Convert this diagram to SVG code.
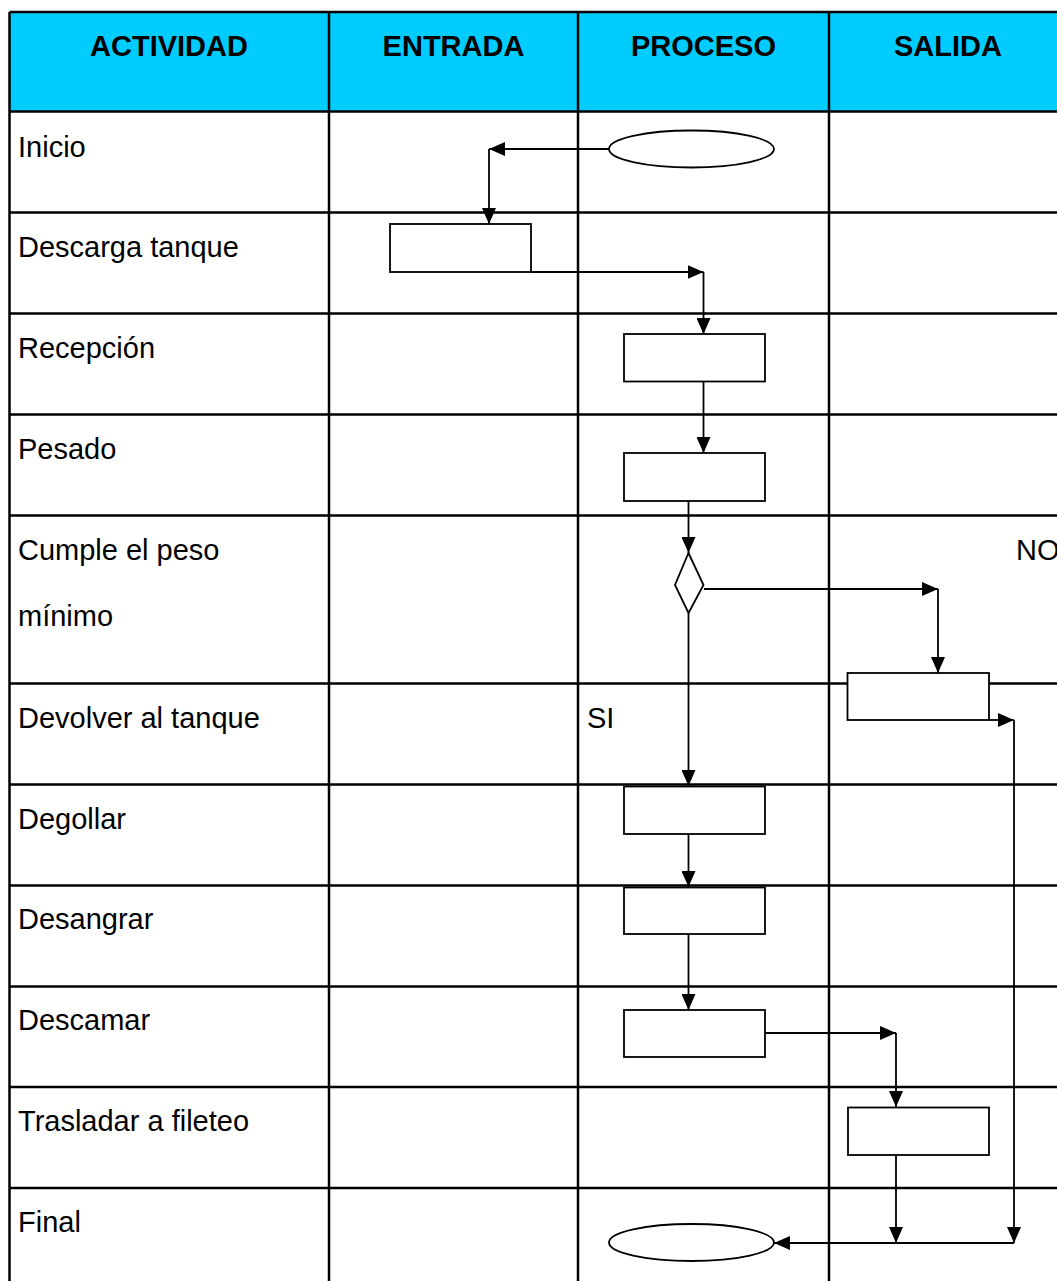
<svg xmlns="http://www.w3.org/2000/svg" width="1057" height="1281" viewBox="0 0 1057 1281">
  <style>
    .grid { stroke: #000; stroke-width: 2.5; fill: none; }
    .head { font-family: "Liberation Sans", Arial, sans-serif; font-size: 29px; font-weight: bold; fill: #000; text-anchor: middle; }
    .lbl { font-family: "Liberation Sans", Arial, sans-serif; font-size: 29px; fill: #000; }
    .shape { fill: #fff; stroke: #000; stroke-width: 1.8; }
    .link { fill: none; stroke: #000; stroke-width: 1.8; marker-end: url(#arrow); }
  </style>
  <defs>
    <marker id="arrow" markerUnits="userSpaceOnUse" markerWidth="16" markerHeight="14" refX="16" refY="7" orient="auto">
      <path d="M0,0 L16,7 L0,14 Z" fill="#000"/>
    </marker>
  </defs>

  <rect width="1057" height="1281" fill="#fff"/>

  <!-- table -->
  <g id="table">
    <rect x="9.5" y="12" width="1057.5" height="99.5" fill="#00ccff"/>
    <path class="grid" d="M9.5,12 H1067 M9.5,111.5 H1067 M9.5,212.5 H1067 M9.5,313.5 H1067 M9.5,414.5 H1067 M9.5,515.5 H1067 M9.5,683.5 H1067 M9.5,784.5 H1067 M9.5,885.5 H1067 M9.5,986.5 H1067 M9.5,1087 H1067 M9.5,1188 H1067"/>
    <path class="grid" d="M9.5,12 V1290 M329,12 V1290 M578,12 V1290 M829,12 V1290 M1067,12 V1290"/>
    <text class="head" x="169" y="56">ACTIVIDAD</text>
    <text class="head" x="453.5" y="56">ENTRADA</text>
    <text class="head" x="703.5" y="56">PROCESO</text>
    <text class="head" x="948" y="56">SALIDA</text>
    <text class="lbl" x="18" y="157">Inicio</text>
    <text class="lbl" x="18" y="257">Descarga tanque</text>
    <text class="lbl" x="18" y="358">Recepción</text>
    <text class="lbl" x="18" y="459">Pesado</text>
    <text class="lbl" x="18" y="560">Cumple el peso</text>
    <text class="lbl" x="18" y="626">mínimo</text>
    <text class="lbl" x="18" y="728">Devolver al tanque</text>
    <text class="lbl" x="18" y="829">Degollar</text>
    <text class="lbl" x="18" y="929">Desangrar</text>
    <text class="lbl" x="18" y="1030">Descamar</text>
    <text class="lbl" x="18" y="1131">Trasladar a fileteo</text>
    <text class="lbl" x="18" y="1232">Final</text>
    <text class="lbl" x="1016" y="560">NO</text>
    <text class="lbl" x="587" y="728">SI</text>
  </g>

  <!-- connectors -->
  <g id="connectors">
    <path class="link" d="M609,149 H489"/>
    <path class="link" d="M489,149 V224"/>
    <path class="link" d="M531,272 H703.5"/>
    <path class="link" d="M703.5,272 V334"/>
    <path class="link" d="M703.5,381.5 V453"/>
    <path class="link" d="M688.5,501 V553"/>
    <path class="link" d="M704,589 H938"/>
    <path class="link" d="M938,589 V673"/>
    <path class="link" d="M989,720 H1014"/>
    <path class="link" d="M1014,720 V1243"/>
    <path class="link" d="M688.5,613 V786"/>
    <path class="link" d="M688.5,834 V887"/>
    <path class="link" d="M688.5,934 V1010"/>
    <path class="link" d="M765,1033 H896"/>
    <path class="link" d="M896,1033 V1107"/>
    <path class="link" d="M896,1155 V1243"/>
    <path class="link" d="M1014,1243 H774"/>
  </g>

  <!-- nodes -->
  <g id="start"><ellipse class="shape" cx="691.5" cy="149" rx="82.5" ry="18.5"/></g>
  <g id="descarga"><rect class="shape" x="390" y="224" width="141" height="48"/></g>
  <g id="recepcion"><rect class="shape" x="624" y="334" width="141" height="47.5"/></g>
  <g id="pesado"><rect class="shape" x="624" y="453" width="141" height="48"/></g>
  <g id="decision"><polygon class="shape" points="688.5,553 703.5,585 688.5,613 675,585"/></g>
  <g id="devolver"><rect class="shape" x="847.5" y="673" width="141.5" height="47"/></g>
  <g id="degollar"><rect class="shape" x="624" y="786.5" width="141" height="47.5"/></g>
  <g id="desangrar"><rect class="shape" x="624" y="887.5" width="141" height="46.5"/></g>
  <g id="descamar"><rect class="shape" x="624" y="1010" width="141" height="47"/></g>
  <g id="trasladar"><rect class="shape" x="848" y="1107.5" width="141" height="47.5"/></g>
  <g id="end"><ellipse class="shape" cx="691.5" cy="1242.5" rx="82.5" ry="18.5"/></g>
</svg>
